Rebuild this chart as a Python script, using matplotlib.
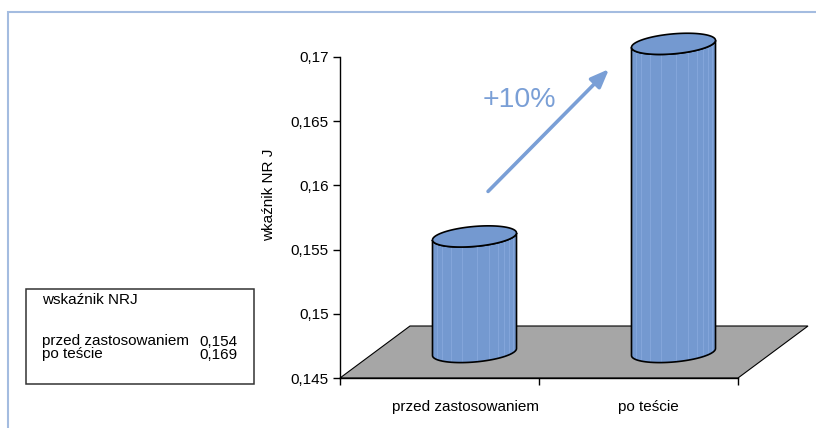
import numpy as np
import matplotlib
matplotlib.use("Agg")
import matplotlib.pyplot as plt
from matplotlib.patches import Polygon, Rectangle

plt.rcParams['font.family'] = ['Liberation Sans', 'DejaVu Sans']

# ---- data ----
categories = ['przed zastosowaniem', 'po teście']
values = [0.154, 0.169]
y_ticks = [0.145, 0.15, 0.155, 0.16, 0.165, 0.17]
y_tick_labels = ['0,145', '0,15', '0,155', '0,16', '0,165', '0,17']
y_label = 'wkaźnik NR J'
legend_title = 'wskaźnik NRJ'
change_label = '+10%'

# ---- figure layout (pixel helpers) ----
W, H = 816, 428
fig = plt.figure(figsize=(W / 100, H / 100), dpi=100)
FS = 11


def fx(px):
    return px / W


def fy(py):
    return 1 - py / H


ax = fig.add_axes([fx(340), fy(378), fx(738) - fx(340), fy(57) - fy(378)])
ymin, ymax = 0.145, 0.17
ax.set_xlim(0, len(categories))
ax.set_ylim(ymin, ymax)

# scale factors: pixels per data unit
px_x = (738 - 340) / len(categories)
px_y = (378 - 57) / (ymax - ymin)

# 3D depth offset of the floor and bars
depth_dx = 35 / px_x
depth_dy = 26 / px_y

# floor
floor = Polygon([(0, ymin), (len(categories), ymin),
                 (len(categories) + 2 * depth_dx, ymin + 2 * depth_dy),
                 (2 * depth_dx, ymin + 2 * depth_dy)],
                closed=True, facecolor='#a6a6a6', edgecolor='black',
                lw=0.8, clip_on=False, zorder=1)
ax.add_patch(floor)

# cylinders
bar_face = '#7499d0'
stripe_col = '#86a8dc'
hw = 42 / px_x       # half width
hh = 10 / px_y       # ellipse half height
tilt = 3.5 / px_y    # ellipse tilt
stripe_fracs = [-0.9, -0.78, -0.55, -0.3, 0.05, 0.35, 0.55, 0.7, 0.82, 0.92]

t_front = np.linspace(np.pi, 2 * np.pi, 80)
t_all = np.linspace(0, 2 * np.pi, 160)

for i, v in enumerate(values):
    xc = i + 0.5 + depth_dx
    yb = ymin + depth_dy
    yt = v + depth_dy
    bx = xc + hw * np.cos(t_front)
    by_b = yb + hh * np.sin(t_front) + tilt * np.cos(t_front)
    by_t = yt + hh * np.sin(t_front) + tilt * np.cos(t_front)
    body = np.vstack([np.column_stack([bx, by_b]),
                      np.column_stack([bx[::-1], by_t[::-1]])])
    ax.add_patch(Polygon(body, closed=True, facecolor=bar_face,
                         edgecolor='none', clip_on=False, zorder=3))
    for u in stripe_fracs:
        s = np.sqrt(1 - u * u)
        x = xc + hw * u
        ax.plot([x, x], [yb - hh * s + tilt * u, yt - hh * s + tilt * u],
                color=stripe_col, lw=0.6, clip_on=False, zorder=3.5)
    ax.add_patch(Polygon(body, closed=True, facecolor='none',
                         edgecolor='black', lw=1.2, clip_on=False, zorder=4))
    top = np.column_stack([xc + hw * np.cos(t_all),
                           yt + hh * np.sin(t_all) + tilt * np.cos(t_all)])
    ax.add_patch(Polygon(top, closed=True, facecolor=bar_face,
                         edgecolor='black', lw=1.2, clip_on=False, zorder=5))

# axes styling
for side in ['top', 'right']:
    ax.spines[side].set_visible(False)
for side in ['left', 'bottom']:
    ax.spines[side].set_color('black')
    ax.spines[side].set_linewidth(1.0)
    ax.spines[side].set_zorder(2)
ax.patch.set_visible(False)

ax.set_yticks(y_ticks, y_tick_labels)
ax.tick_params(axis='y', direction='out', length=5, width=1, pad=3,
               labelsize=FS, colors='black')
ax.set_xticks(range(len(categories) + 1), [''] * (len(categories) + 1))
ax.tick_params(axis='x', which='major', direction='out', length=5, width=1)
label_pos = [0.633, 1.55]
ax.set_xticks(label_pos, categories, minor=True)
ax.tick_params(axis='x', which='minor', length=0, pad=16, labelsize=FS)

fig.text(fx(269), fy(195), y_label, rotation=90, ha='center', va='center',
         fontsize=FS)

# growth arrow and label
arrow_col = '#7a9fd6'
ax.annotate('', xy=(1.352, 0.16906), xytext=(0.744, 0.15953),
            arrowprops=dict(arrowstyle='-|>,head_length=0.55,head_width=0.22',
                            color=arrow_col, lw=2.6, mutation_scale=20,
                            shrinkA=0, shrinkB=0),
            annotation_clip=False, zorder=6)
ax.text(0.9, 0.16664, change_label, ha='center', va='center', fontsize=20.5,
        color=arrow_col)

# data table box
fig.patches.append(Rectangle((fx(26), fy(384)), (254 - 26) / W, (384 - 289) / H,
                             transform=fig.transFigure, facecolor='white',
                             edgecolor='#333333', lw=1.1))
fig.text(fx(42), fy(300), legend_title, ha='left', va='center', fontsize=FS)
for j, (cat, v) in enumerate(zip(categories, values)):
    fig.text(fx(42), fy(341 + 13 * j), cat, ha='left', va='center', fontsize=FS)
    fig.text(fx(237), fy(342 + 13 * j), f'{v:.3f}'.replace('.', ','),
             ha='right', va='center', fontsize=FS)

# outer frame
fig.patches.append(Rectangle((fx(7.5), fy(440)), 1.2, fy(12) - fy(440),
                             transform=fig.transFigure, facecolor='none',
                             edgecolor='#a4bce0', lw=1.5, clip_on=False))

fig.savefig('out.png', dpi=100)
